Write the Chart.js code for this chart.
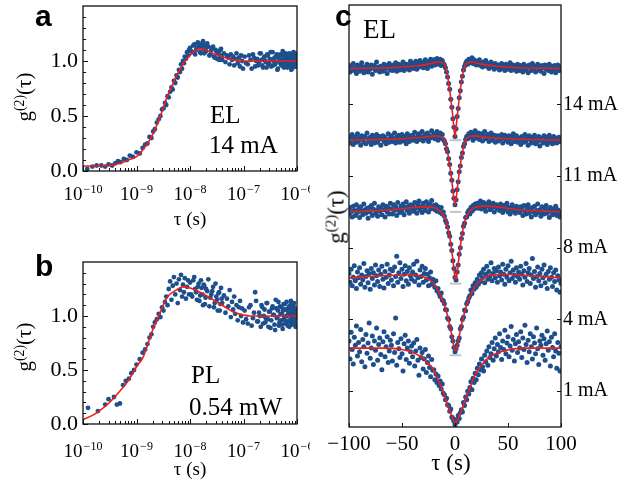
<!DOCTYPE html>
<html>
<head>
<meta charset="utf-8">
<script src="https://cdn.jsdelivr.net/npm/chart.js@4.4.1/dist/chart.umd.min.js"></script>
<style>
body { margin: 0; background: #fff; }
#fig { position: relative; width: 631px; height: 480px; overflow: hidden; background: #fff; font-family: "Liberation Serif", serif; color: #000; }
canvas { position: absolute; }
.t { position: absolute; white-space: nowrap; line-height: 1; }
.letter { font-family: "Liberation Sans", Arial, sans-serif; font-weight: bold; }
.yt { position: absolute; white-space: nowrap; line-height: 1; transform: translate(-50%, -50%) rotate(-90deg); }
.yt sup { font-size: 0.65em; vertical-align: 0; position: relative; top: -0.55em; }
</style>
</head>
<body>
<div id="fig">
  <canvas id="chartA" width="310" height="230" style="left:0;top:0"></canvas>
  <canvas id="chartB" width="310" height="250" style="left:0;top:230px"></canvas>
  <canvas id="chartC" width="311" height="480" style="left:320px;top:0"></canvas>
</div>
<script>
// panel a: EL 14 mA, tau in ns
const tauA = [0.12,0.15,0.18,0.22,0.26,0.3,0.35,0.4,0.45,0.5,0.58,0.66,0.75,0.85,
  1.0,1.15,1.3,1.45,1.6,1.75,1.9,2.05,2.2,2.4,2.6,2.8,3.0,3.2,3.4,3.6,3.8,4.0,4.25,4.5,4.75,5.0,5.3,5.6,5.9,6.2,6.5,6.8,7.1,7.4,7.7,8.0,8.4,8.8,9.2,9.6,
  10,11,12,13,14,15,16,17,18,19,20,22,24,26,28,30,32,34,36,38,40,43,46,49,52,55,58,61,64,67,70,74,78,82,86,90,94,98,
  105,120,135,150,165,180,195,210,225,240,255,270,285,300,320,340,360,380,400,420,440,460,480,500,520,540,560,580,600,620,640,660,680,700,720,740,760,780,800,820,840,860,880,900,920,940,960,980,
  10.5,11.5,12.5,13.5,14.5,15.5,16.5,17.5,18.5,19.5,21,23,25,27,29,31,33,35,37,39,
  112,127,142,157,172,187,202,217,232,247,262,277,292,310,330,350,370,390,410,430,450,470,490,510,530,550,570,590,610,630,650,670,690,710,730,750,770,790,810,830,850,870,890,910,930,950,970,990];
const gA = [0.02,0.04,0.05,0.05,0.04,0.06,0.05,0.07,0.09,0.08,0.11,0.1,0.14,0.13,
  0.17,0.16,0.21,0.24,0.25,0.31,0.3,0.36,0.38,0.44,0.47,0.5,0.56,0.57,0.62,0.6,0.68,0.67,0.72,0.76,0.74,0.82,0.8,0.87,0.85,0.92,0.9,0.97,0.93,1.0,0.98,1.04,1.02,1.08,1.05,1.1,
  1.12,1.08,1.15,1.1,1.17,1.13,1.07,1.16,1.11,1.14,1.09,1.13,1.06,1.12,1.04,1.1,1.02,1.08,1.05,1.11,1.01,1.07,0.99,1.05,1.03,0.97,1.06,1.01,1.04,0.96,1.02,1.07,0.98,1.03,0.95,1.05,1.0,0.93,
  1.04,0.97,1.01,1.06,0.95,1.02,0.99,1.07,0.96,1.03,1.0,0.94,1.05,0.98,1.08,1.01,0.96,1.03,0.99,1.06,0.93,1.02,1.05,0.97,1.0,1.09,0.95,1.03,0.98,1.06,1.01,0.94,1.04,0.99,1.07,0.96,1.02,0.92,1.05,1.0,0.97,1.08,0.95,1.03,0.99,1.06,0.96,1.01,
  1.09,1.14,1.06,1.12,1.15,1.08,1.13,1.18,1.07,1.12,1.16,1.05,1.1,1.13,1.03,1.09,1.07,1.01,1.1,1.04,
  0.98,1.05,0.93,1.03,1.0,0.96,1.07,1.01,0.94,1.04,0.99,1.06,0.97,1.02,0.95,1.08,1.0,0.97,1.04,0.92,1.03,0.99,1.06,0.96,1.01,1.05,0.94,1.0,1.07,0.98,1.03,0.95,1.01,1.06,0.97,1.02,0.99,1.05,0.93,1.04,1.0,0.96,1.03,0.98,1.07,0.95,1.02,0.99];
const fitTauA = [0.1,0.3,0.5,0.7,1,1.5,2,2.5,3,3.7,4.5,5.5,6.5,8,10,12,15.5,20,30,40,63,100,1000];
const fitGA = [0.045,0.05,0.07,0.1,0.13,0.23,0.33,0.44,0.54,0.67,0.76,0.86,0.92,1.0,1.05,1.09,1.11,1.1,1.06,1.04,1.01,1.0,1.0];

// panel b: PL 0.54 mW, tau in ns
const tauB = [0.124,0.19,0.26,0.3,0.38,0.43,0.49,0.56,0.63,0.72,0.8,0.9,
  1.0,1.15,1.3,1.45,1.6,1.75,1.9,2.05,2.2,2.4,2.6,2.8,3.0,3.2,3.4,3.6,3.8,4.0,4.25,4.5,4.75,5.0,5.3,5.6,5.9,6.2,6.5,6.8,7.1,7.4,7.7,8.0,8.4,8.8,9.2,9.6,
  10,11,12,13,14,15,16,17,18,19,20,22,24,26,28,30,32,34,36,38,40,43,46,49,52,55,58,61,64,67,70,74,78,82,86,90,94,98,
  105,120,135,150,165,180,195,210,225,240,255,270,285,300,320,340,360,380,400,420,440,460,480,500,520,540,560,580,600,620,640,660,680,700,720,740,760,780,800,820,840,860,880,900,920,940,960,980,
  10.5,11.5,12.5,13.5,14.5,15.5,16.5,17.5,18.5,19.5,21,23,25,27,29,31,33,35,37,39,
  112,127,142,157,172,187,202,217,232,247,262,277,292,310,330,350,370,390,410,430,450,470,490,510,530,550,570,590,610,630,650,670,690,710,730,750,770,790,810,830,850,870,890,910,930,950,970,990];
const gB = [0.15,0.12,0.18,0.23,0.25,0.18,0.19,0.36,0.4,0.42,0.47,0.5,
  0.55,0.6,0.66,0.69,0.74,0.8,0.83,0.9,0.94,0.97,1.02,0.99,1.08,1.05,1.13,1.18,1.1,1.25,1.32,1.15,1.28,1.36,1.2,1.3,1.12,1.34,1.24,1.38,1.18,1.29,1.22,1.35,1.16,1.27,1.33,1.2,
  1.31,1.18,1.36,1.22,1.27,1.14,1.33,1.2,1.29,1.11,1.25,1.34,1.17,1.23,1.08,1.3,1.15,1.21,1.05,1.26,1.12,1.19,1.03,1.16,1.09,1.24,0.99,1.13,1.06,1.18,1.02,1.1,0.96,1.08,1.14,1.0,1.07,0.94,
  1.05,0.93,1.1,0.98,1.22,0.95,1.03,0.9,1.08,1.0,0.94,1.12,0.97,1.04,0.89,1.07,1.01,0.92,1.15,0.98,1.05,0.91,1.09,0.96,1.02,0.88,1.11,0.99,1.06,0.93,1.13,1.0,0.95,1.07,0.9,1.03,1.1,0.97,0.92,1.08,1.01,0.94,1.12,0.96,1.04,0.9,1.06,0.98,
  1.2,1.33,1.25,1.15,1.3,1.19,1.26,1.1,1.28,1.17,1.23,1.09,1.2,1.27,1.12,1.18,1.05,1.22,1.11,1.16,
  0.97,1.08,0.91,1.03,1.14,0.95,1.0,1.1,0.93,1.06,0.98,1.12,0.9,1.04,0.96,1.09,1.01,0.87,1.07,0.99,1.13,0.94,1.02,1.08,0.92,1.05,0.97,1.11,0.95,1.0,1.06,0.91,1.03,1.09,0.96,1.01,1.14,0.93,1.05,0.98,1.1,0.94,1.02,0.97,1.07,0.92,1.04,1.0];
const fitTauB = [0.1,0.15,0.2,0.3,0.5,0.7,1,1.33,2,2.75,3.7,5.5,7.3,10,15.5,20,34,50,63,100,130,1000];
const fitGB = [0.04,0.08,0.12,0.19,0.31,0.4,0.53,0.62,0.87,1.03,1.17,1.24,1.27,1.26,1.22,1.19,1.12,1.07,1.04,1.01,1.0,1.0];

// panel c: EL at several currents, tau in ns
const tauC = [-100,-99,-98,-97,-96,-95,-94,-93,-92,-91,
  -90,-89,-88,-87,-86,-85,-84,-83,-82,-81,
  -80,-79,-78,-77,-76,-75,-74,-73,-72,-71,
  -70,-69,-68,-67,-66,-65,-64,-63,-62,-61,
  -60,-59,-58,-57,-56,-55,-54,-53,-52,-51,
  -50,-49,-48,-47,-46,-45,-44,-43,-42,-41,
  -40,-39,-38,-37,-36,-35,-34,-33,-32,-31,
  -30,-29,-28,-27,-26,-25,-24,-23,-22,-21,
  -20,-19,-18,-17,-16,-15,-14,-13,-12,-11,
  -10,-9,-8,-7,-6,-5,-4,-3,-2,-1,
  0,
  1,2,3,4,5,6,7,8,9,10,
  11,12,13,14,15,16,17,18,19,20,
  21,22,23,24,25,26,27,28,29,30,
  31,32,33,34,35,36,37,38,39,40,
  41,42,43,44,45,46,47,48,49,50,
  51,52,53,54,55,56,57,58,59,60,
  61,62,63,64,65,66,67,68,69,70,
  71,72,73,74,75,76,77,78,79,80,
  81,82,83,84,85,86,87,88,89,90,
  91,92,93,94,95,96,97,98,99,100];
const g14 = [1.04,0.95,1.02,0.98,1.07,0.97,1.01,0.93,1.05,0.99,
  0.96,1.03,1.08,0.98,0.94,1.02,1.0,1.06,0.95,1.03,
  0.99,1.05,0.92,1.01,1.04,0.97,1.09,0.98,1.02,0.95,
  1.03,1.0,0.96,1.06,0.99,1.04,0.93,1.01,1.07,0.98,
  1.03,0.97,1.05,1.0,1.08,0.96,1.02,1.06,0.98,1.04,
  1.01,1.09,0.97,1.03,1.06,1.0,1.05,0.98,1.1,1.02,
  1.07,1.0,1.04,1.1,0.99,1.06,1.02,1.11,1.03,1.08,
  1.01,1.07,1.12,1.04,1.0,1.09,1.05,1.13,1.03,1.08,
  1.12,1.05,1.1,1.14,1.06,1.09,1.13,1.04,1.11,1.07,
  1.05,1.01,0.95,0.88,0.79,0.71,0.57,0.46,0.3,0.18,
  0.05,
  0.16,0.33,0.44,0.59,0.69,0.81,0.89,0.98,1.03,1.07,
  1.1,1.06,1.13,1.08,1.11,1.15,1.07,1.12,1.09,1.05,
  1.1,1.06,1.12,1.04,1.08,1.02,1.09,1.05,1.11,1.03,
  1.07,1.0,1.06,1.09,1.02,1.05,0.99,1.07,1.03,1.01,
  1.05,0.98,1.03,1.07,1.0,1.04,0.97,1.06,1.02,0.99,
  1.04,1.08,0.97,1.02,1.05,0.99,1.03,0.96,1.06,1.01,
  0.97,1.04,1.0,0.95,1.06,1.02,0.98,1.03,0.94,1.05,
  1.01,0.97,1.07,0.99,1.03,0.95,1.02,1.06,0.98,1.0,
  0.96,1.04,1.01,0.93,1.05,0.99,1.02,0.97,1.06,1.0,
  0.95,1.03,0.98,1.04,0.94,1.01,1.05,0.97,1.02,0.99];
const g11 = [1.05,0.96,1.02,1.08,0.94,1.0,1.04,0.97,1.09,0.99,
  1.03,0.93,1.06,1.01,0.97,1.05,0.95,1.1,1.02,0.98,
  1.04,0.94,1.07,1.0,0.96,1.03,1.08,0.97,1.01,1.05,
  0.93,1.02,1.06,0.98,1.04,0.95,1.0,1.09,0.97,1.03,
  1.06,0.98,1.02,1.1,0.96,1.04,1.0,1.07,0.97,1.03,
  1.08,0.99,1.05,1.01,0.95,1.09,1.03,0.98,1.06,1.02,
  1.07,1.0,1.11,1.03,0.98,1.06,1.09,1.01,1.05,1.12,
  0.99,1.04,1.08,1.02,1.1,0.98,1.06,1.03,1.13,1.05,
  1.09,1.02,1.07,1.12,1.0,1.06,1.1,1.03,1.08,1.01,
  0.99,0.95,0.88,0.84,0.74,0.66,0.54,0.44,0.29,0.19,
  0.1,
  0.17,0.31,0.42,0.56,0.64,0.76,0.82,0.91,0.95,1.01,
  1.05,1.02,1.09,1.04,1.11,1.06,1.0,1.08,1.13,1.03,
  1.07,1.1,1.01,1.05,1.09,0.99,1.06,1.12,1.02,1.04,
  1.08,0.98,1.05,1.1,1.0,1.03,1.07,0.97,1.04,1.06,
  0.99,1.05,1.02,1.08,0.96,1.03,1.07,1.0,1.04,0.97,
  1.06,1.01,0.95,1.05,1.09,0.98,1.02,1.06,0.97,1.03,
  1.0,0.94,1.05,1.02,0.97,1.08,0.99,1.03,0.93,1.06,
  1.01,0.96,1.04,1.0,1.07,0.95,1.02,0.98,1.05,0.92,
  1.03,1.0,0.96,1.06,0.99,1.04,0.94,1.01,1.07,0.97,
  1.02,0.95,1.05,0.99,1.03,0.96,1.0,1.04,0.98,1.01];
const g8 = [0.97,1.06,1.0,0.93,1.08,1.02,0.95,1.1,0.99,1.04,
  0.92,1.07,1.01,0.96,1.11,1.03,0.98,1.05,0.91,1.06,
  1.0,1.09,0.95,1.04,1.12,0.98,1.02,0.94,1.07,1.01,
  1.05,0.96,1.1,1.03,0.93,1.08,1.0,1.06,0.97,1.12,
  1.04,0.97,1.1,1.02,1.07,0.95,1.13,1.03,0.99,1.08,
  1.01,1.11,0.96,1.06,1.14,1.02,1.08,0.98,1.1,1.04,
  1.09,1.01,1.13,1.05,0.98,1.1,1.15,1.03,1.07,0.99,
  1.12,1.06,1.02,1.14,1.08,1.0,1.11,1.04,1.16,1.06,
  1.09,1.03,1.1,1.01,1.07,1.04,0.99,1.06,0.97,1.0,
  0.94,0.88,0.85,0.79,0.71,0.66,0.55,0.46,0.32,0.21,
  0.09,
  0.05,0.16,0.26,0.41,0.5,0.63,0.7,0.8,0.84,0.92,
  0.93,0.99,1.02,0.97,1.06,1.01,1.09,1.04,1.11,1.07,
  1.12,1.05,1.09,1.15,1.04,1.1,1.13,1.06,1.01,1.11,
  1.08,1.14,1.03,1.09,1.06,1.12,1.0,1.07,1.1,1.04,
  1.08,1.02,1.11,1.05,0.99,1.09,1.03,1.07,1.12,1.0,
  1.06,0.97,1.04,1.1,1.01,1.05,0.98,1.08,1.02,1.06,
  0.99,1.07,1.03,0.95,1.09,1.01,0.97,1.05,1.1,0.98,
  1.04,0.93,1.06,1.0,1.08,0.96,1.02,1.11,0.99,1.03,
  0.94,1.07,1.0,0.97,1.05,1.09,0.98,1.02,0.92,1.06,
  1.01,0.96,1.04,0.99,1.08,0.95,1.03,1.0,0.93,0.97];
const g4 = [1.14,1.02,1.2,0.97,1.09,1.25,1.04,0.93,1.16,1.08,
  1.22,0.99,1.12,1.05,1.28,0.95,1.1,1.18,1.01,1.14,
  0.92,1.21,1.07,1.15,0.98,1.26,1.11,1.03,1.19,0.96,
  1.13,1.24,1.06,0.94,1.17,1.09,1.27,1.0,1.12,1.2,
  1.05,1.18,0.97,1.23,1.1,1.38,1.02,1.15,1.29,1.07,
  1.2,0.96,1.13,1.25,1.04,1.17,0.99,1.22,1.11,1.06,
  1.16,1.27,1.03,1.12,1.31,1.08,0.98,1.19,1.1,1.24,
  1.02,1.14,1.21,1.05,1.13,0.97,1.08,1.16,0.99,1.06,
  1.02,0.95,1.04,0.9,0.93,0.86,0.82,0.87,0.77,0.76,
  0.72,0.64,0.63,0.52,0.5,0.4,0.37,0.26,0.2,0.11,
  0.05,
  0.09,0.14,0.2,0.24,0.37,0.4,0.5,0.53,0.63,0.62,
  0.72,0.75,0.8,0.83,0.91,0.86,0.97,0.92,1.01,0.95,
  1.06,0.99,1.12,1.03,1.15,1.08,1.2,1.01,1.13,1.24,
  1.06,1.17,1.1,1.29,1.04,1.14,1.21,1.08,1.18,1.02,
  1.23,1.11,1.16,1.05,1.27,1.13,0.99,1.2,1.09,1.25,
  1.04,1.15,1.31,1.07,1.19,1.12,1.02,1.22,1.1,1.16,
  1.06,1.24,1.13,0.98,1.18,1.09,1.28,1.03,1.15,1.21,
  1.0,1.12,1.35,1.07,1.17,0.95,1.1,1.23,1.04,1.14,
  0.97,1.2,1.08,1.26,1.01,1.13,0.93,1.17,1.06,1.22,
  1.09,0.96,1.15,1.03,1.19,0.91,1.11,1.05,0.88,1.0];
const g1 = [1.2,0.95,1.32,1.08,0.88,1.25,1.14,1.41,0.99,1.18,
  1.05,1.36,0.91,1.22,1.12,0.84,1.29,1.03,1.17,1.45,
  0.96,1.1,1.27,0.87,1.2,1.07,1.38,0.93,1.15,1.24,
  1.01,0.8,1.19,1.33,0.98,1.12,1.26,0.9,1.06,1.21,
  1.14,0.92,1.3,1.04,1.52,0.86,1.18,1.09,0.97,1.23,
  1.02,0.78,1.16,1.28,0.94,1.1,1.2,0.89,1.05,1.13,
  0.98,1.17,0.85,1.06,1.22,0.93,0.72,1.1,0.97,1.04,
  0.81,0.95,1.08,0.76,0.9,0.99,0.83,0.7,0.94,0.79,
  0.8,0.66,0.74,0.62,0.71,0.58,0.64,0.53,0.6,0.47,
  0.45,0.38,0.4,0.31,0.3,0.22,0.25,0.14,0.12,0.08,
  0.03,
  0.1,0.07,0.16,0.12,0.2,0.24,0.21,0.34,0.3,0.42,
  0.38,0.5,0.46,0.55,0.63,0.52,0.68,0.62,0.75,0.66,
  0.82,0.73,0.88,0.8,0.95,0.84,0.78,1.0,0.91,1.06,
  0.86,1.12,0.97,1.02,1.18,0.93,1.09,1.24,0.99,1.15,
  1.05,1.3,1.11,0.94,1.2,1.08,1.35,1.02,1.17,1.26,
  0.98,1.13,1.4,1.07,1.22,0.92,1.16,1.29,1.04,1.19,
  1.1,1.33,0.97,1.24,1.08,1.42,1.15,0.9,1.21,1.05,
  1.3,1.12,0.95,1.26,1.17,1.02,1.38,1.09,0.87,1.2,
  1.14,1.28,1.0,1.23,0.93,1.16,1.34,1.07,1.19,0.85,
  1.25,1.11,0.98,1.3,1.06,0.82,1.18,1.03,0.78,1.12];

const fitT14 = [-100,-60,-40,-25,-15,-10,-8,-7,-6,-5,-4,-3,-2,-1,0,1,2,3,4,5,6,7,8,10,15,25,40,60,100];
const fitG14 = [1.0,1.01,1.03,1.06,1.09,1.06,0.97,0.9,0.8,0.7,0.58,0.45,0.32,0.17,0.04,0.17,0.32,0.45,0.58,0.7,0.8,0.9,0.97,1.06,1.09,1.06,1.03,1.01,1.0];
const fitT11 = [-100,-50,-30,-18,-12,-10,-9,-8,-7,-6,-5,-4,-3,-2,-1,0,1,2,3,4,5,6,7,8,9,10,12,18,30,50,100];
const fitG11 = [1.0,1.02,1.04,1.06,1.04,1.0,0.96,0.9,0.83,0.75,0.65,0.55,0.43,0.3,0.18,0.1,0.18,0.3,0.43,0.55,0.65,0.75,0.83,0.9,0.96,1.0,1.04,1.06,1.04,1.02,1.0];
const fitT8 = [-100,-60,-30,-20,-15,-12,-10,-8,-6,-5,-4,-3,-2,-1,0,1,2,3,4,5,6,7,8,9,10,12,15,20,30,60,100];
const fitG8 = [1.0,1.03,1.07,1.06,1.02,0.98,0.93,0.85,0.72,0.65,0.56,0.45,0.33,0.2,0.08,0.06,0.15,0.27,0.4,0.52,0.62,0.71,0.79,0.85,0.9,0.97,1.03,1.07,1.08,1.03,1.0];
const fitT4 = [-100,-70,-45,-30,-25,-20,-17,-15,-13,-11,-9,-7,-5,-3,-1,0,1,2,3,5,7,9,11,13,16,19,21,25,30,45,70,100];
const fitG4 = [1.08,1.11,1.12,1.1,1.06,1.0,0.93,0.88,0.81,0.74,0.66,0.55,0.42,0.28,0.12,0.07,0.07,0.12,0.18,0.35,0.48,0.6,0.7,0.78,0.88,0.96,1.0,1.05,1.1,1.13,1.11,1.08];
const fitT1 = [-100,-70,-50,-40,-32,-28,-25,-22,-19,-16,-13,-10,-8,-5.5,-3,0,2,4,6,8.5,12,15,18,22,26,31,38,46,55,65,100];
const fitG1 = [1.1,1.1,1.08,1.04,0.98,0.93,0.88,0.84,0.76,0.66,0.56,0.44,0.35,0.24,0.15,0.06,0.09,0.15,0.23,0.33,0.47,0.58,0.7,0.8,0.88,0.96,1.02,1.06,1.09,1.1,1.1];

// vertical stacking of the traces in panel c and their labels
const currents = ['1 mA', '4 mA', '8 mA', '11 mA', '14 mA'];
const currentPos = [0.5, 1.5, 2.5, 3.5, 4.5];
const zeroLevels = [4, 3, 2, 1];

// tick positions
const logDecades = [1e-10, 1e-9, 1e-8, 1e-7, 1e-6];
const minorMults = [2, 3, 4, 5, 6, 7, 8, 9];
const gTicks = [0, 0.1, 0.2, 0.3, 0.4, 0.5, 0.6, 0.7, 0.8, 0.9, 1.0, 1.1, 1.2, 1.3, 1.4];
const tauCTicks = [-100, -50, 0, 50, 100];

const DOT = '#1c4f8c';
const RED = '#f01d1d';
const SERIF = '"Liberation Serif", "Times New Roman", serif';

Chart.defaults.color = '#000';
Chart.defaults.font.family = SERIF;

// frame, inward ticks and 10^n labels
const framePlugin = {
  id: 'frame',
  afterDatasetsDraw(chart, args, o) {
    const { ctx, chartArea: a } = chart;
    const sx = chart.scales.x, sy = chart.scales.y;
    ctx.save();
    ctx.strokeStyle = '#111';
    ctx.lineWidth = 1;
    const seg = (x1, y1, x2, y2) => { ctx.beginPath(); ctx.moveTo(x1, y1); ctx.lineTo(x2, y2); ctx.stroke(); };
    (o.xTicks || []).forEach(([v, len]) => {
      const x = Math.round(sx.getPixelForValue(v)) + 0.5;
      seg(x, a.bottom, x, a.bottom - len);
    });
    (o.yTicks || []).forEach(([v, len]) => {
      const y = Math.round(sy.getPixelForValue(v)) + 0.5;
      seg(a.left, y, a.left + len, y);
      if (o.mirrorY) seg(a.right, y, a.right - len, y);
    });
    ctx.lineWidth = 1.3;
    ctx.strokeRect(a.left, a.top, a.right - a.left, a.bottom - a.top);
    if (o.logLabels) {
      ctx.fillStyle = '#000';
      ctx.textBaseline = 'alphabetic';
      o.logLabels.forEach(v => {
        const e = Math.round(Math.log10(v));
        const x = sx.getPixelForValue(v);
        const base = '10', exp = '\u2212' + Math.abs(e);
        ctx.font = '19px ' + SERIF;
        const w1 = ctx.measureText(base).width;
        ctx.font = '12px ' + SERIF;
        const w2 = ctx.measureText(exp).width;
        const x0 = x - (w1 + w2 + 1) / 2;
        const y = a.bottom + o.labelDrop;
        ctx.font = '19px ' + SERIF;
        ctx.fillText(base, x0, y);
        ctx.font = '12px ' + SERIF;
        ctx.fillText(exp, x0 + w1 + 1, y - 7);
      });
    }
    ctx.restore();
  }
};

function pts(xs, ys, scale, off) {
  return xs.map((x, i) => ({ x: x * scale, y: ys[i] + off }));
}

function logTicks() {
  const t = logDecades.map(v => [v, 5]);
  logDecades.slice(0, -1).forEach(d => minorMults.forEach(m => t.push([d * m, 3])));
  return t;
}

const noGrid = { display: false, drawTicks: false };

function logPanel(id, tau, g, fitTau, fitG, padTop, xHeight, labelDrop) {
  return new Chart(document.getElementById(id), {
    type: 'scatter',
    data: {
      datasets: [
        { data: pts(fitTau, fitG, 1e-9, 0), showLine: true, pointRadius: 0, borderColor: RED, borderWidth: 1.6,
          cubicInterpolationMode: 'monotone', order: 0 },
        { data: pts(tau, g, 1e-9, 0), pointRadius: 2.4, pointBorderWidth: 0, backgroundColor: DOT, order: 1 }
      ]
    },
    options: {
      responsive: false, animation: false, devicePixelRatio: 1, events: [],
      layout: { padding: { top: padTop, right: 13, left: 0, bottom: 0 } },
      plugins: {
        legend: { display: false }, tooltip: { enabled: false },
        frame: { xTicks: logTicks(), yTicks: gTicks.map(v => [v, Math.round(v * 10) % 5 === 0 ? 5 : 3]),
                 logLabels: logDecades, labelDrop: labelDrop }
      },
      scales: {
        x: { type: 'logarithmic', min: 1e-10, max: 1e-6, grid: noGrid, border: { display: false },
             ticks: { display: false },
             afterFit: s => { s.height = xHeight; s.paddingLeft = 0; s.paddingRight = 0; } },
        y: { min: 0, max: 1.5, grid: noGrid, border: { display: false },
             ticks: { stepSize: 0.5, padding: 5, font: { size: 22 },
                      callback: v => (v < 1.4 ? v.toFixed(1) : '') },
             afterFit: s => { s.width = 83; s.paddingTop = 0; s.paddingBottom = 0; } }
      }
    },
    plugins: [framePlugin]
  });
}

logPanel('chartA', tauA, gA, fitTauA, fitGA, 6, 59, 29);
logPanel('chartB', tauB, gB, fitTauB, fitGB, 32, 56, 33);

// panel c
const traces = [
  { g: g14, ft: fitT14, fg: fitG14, off: 4 },
  { g: g11, ft: fitT11, fg: fitG11, off: 3 },
  { g: g8, ft: fitT8, fg: fitG8, off: 2 },
  { g: g4, ft: fitT4, fg: fitG4, off: 1 },
  { g: g1, ft: fitT1, fg: fitG1, off: 0 }
];
const dsC = [];
traces.forEach(t => {
  dsC.push({ data: pts(t.ft, t.fg, 1, t.off), showLine: true, pointRadius: 0, borderColor: RED, borderWidth: 1.6,
             cubicInterpolationMode: 'monotone', order: 0 });
  dsC.push({ data: pts(tauC, t.g, 1, t.off), pointRadius: 2.5, pointBorderWidth: 0, backgroundColor: DOT, order: 1 });
});
zeroLevels.forEach(z => {
  dsC.push({ data: [{ x: -5, y: z }, { x: 6, y: z }], showLine: true, pointRadius: 0, borderColor: '#c4c4c4',
             borderWidth: 2, order: 2 });
});

new Chart(document.getElementById('chartC'), {
  type: 'scatter',
  data: { datasets: dsC },
  options: {
    responsive: false, animation: false, devicePixelRatio: 1, events: [],
    layout: { padding: { top: 5, right: 0, left: 0, bottom: 0 } },
    plugins: {
      legend: { display: false }, tooltip: { enabled: false },
      frame: { xTicks: tauCTicks.map(v => [v, 4]), yTicks: currentPos.map(v => [v, 4]), mirrorY: true }
    },
    scales: {
      x: { type: 'linear', min: -100, max: 100, grid: noGrid, border: { display: false },
           ticks: { stepSize: 50, padding: 5, autoSkip: false, maxRotation: 0, font: { size: 21 },
                    callback: v => (v < 0 ? '\u2212' + Math.abs(v) : String(v)) },
           afterFit: s => { s.height = 53; s.paddingLeft = 0; s.paddingRight = 0; } },
      y: { min: 0, max: 5.885, grid: noGrid, border: { display: false }, ticks: { display: false },
           afterFit: s => { s.width = 29; s.paddingTop = 0; s.paddingBottom = 0; } },
      yr: { position: 'right', min: 0, max: 5.885, grid: noGrid, border: { display: false },
            afterBuildTicks: s => { s.ticks = currentPos.map(v => ({ value: v })); },
            ticks: { padding: 2, font: { size: 20 }, callback: (v, i) => currents[i] },
            afterFit: s => { s.width = 70; s.paddingTop = 0; s.paddingBottom = 0; } }
    }
  },
  plugins: [framePlugin]
});

// text placed by baseline
const fig = document.getElementById('fig');
function addText(html, x, base, size, cls, center) {
  const d = document.createElement('div');
  d.className = 't' + (cls ? ' ' + cls : '');
  d.innerHTML = html;
  d.style.fontSize = size + 'px';
  d.style.top = (base - (cls === 'letter' ? 0.8465 : 0.8375) * size) + 'px';
  d.style.left = x + 'px';
  if (center) d.style.transform = 'translateX(-50%)';
  fig.appendChild(d);
}
function addYTitle(cx, cy, size) {
  const d = document.createElement('div');
  d.className = 'yt';
  d.innerHTML = 'g<sup>(2)</sup>(\u03c4)';
  d.style.fontSize = size + 'px';
  d.style.left = cx + 'px';
  d.style.top = cy + 'px';
  fig.appendChild(d);
}

addText('a', 35, 26, 30, 'letter');
addText('b', 35, 276, 30, 'letter');
addText('c', 335, 26, 30, 'letter');

addText('EL', 210, 123, 25);
addText('14 mA', 209, 153, 25);
addText('PL', 191, 383, 25);
addText('0.54 mW', 189, 415, 25);
addText('EL', 363, 39, 27);

addText('\u03c4 (s)', 190, 225, 19, '', true);
addText('\u03c4 (s)', 190, 475, 19, '', true);
addText('\u03c4 (s)', 451, 470, 23, '', true);

addYTitle(24, 97, 21);
addYTitle(24, 347, 21);
addYTitle(336, 217, 23);
</script>
</body>
</html>
